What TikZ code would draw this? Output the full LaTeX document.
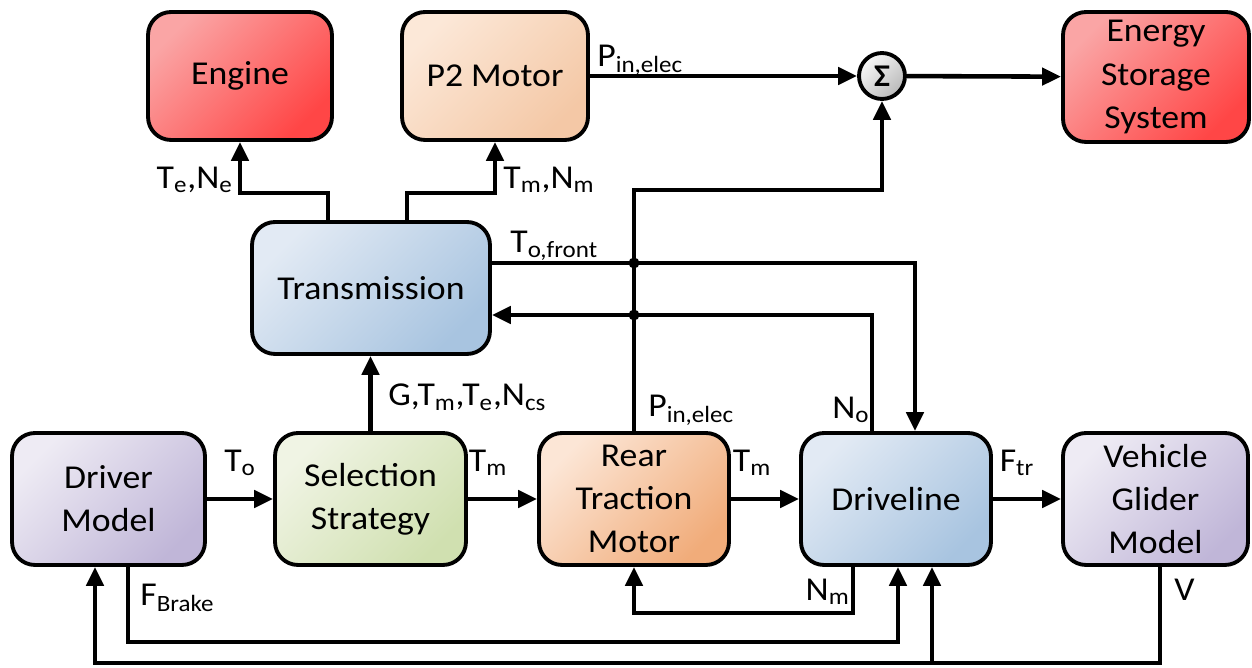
\documentclass[tikz,border=0pt]{standalone}
\usepackage{fontspec}
\setmainfont{Carlito}[FakeStretch=1.07]
\usetikzlibrary{arrows.meta}

\definecolor{redA}{RGB}{250,165,165}
\definecolor{redB}{RGB}{255,70,70}
\definecolor{peachA}{RGB}{252,232,216}
\definecolor{peachB}{RGB}{244,200,166}
\definecolor{orangeA}{RGB}{252,230,214}
\definecolor{orangeB}{RGB}{241,172,122}
\definecolor{blueA}{RGB}{226,234,244}
\definecolor{blueB}{RGB}{168,196,224}
\definecolor{lilacA}{RGB}{238,235,244}
\definecolor{lilacB}{RGB}{192,182,216}
\definecolor{greenA}{RGB}{240,244,228}
\definecolor{greenB}{RGB}{208,224,176}

\begin{document}
\begin{tikzpicture}[x=0.02cm, y=-0.02cm,
  blk/.style={draw, line width=2.2pt, rounded corners=0.46cm, align=center,
    inner sep=0pt, font=\fontsize{19}{24.5}\selectfont},
  redfill/.style={top color=redA, bottom color=redB, shading angle=45},
  peachfill/.style={top color=peachA, bottom color=peachB, shading angle=45},
  orangefill/.style={top color=orangeA, bottom color=orangeB, shading angle=45},
  bluefill/.style={top color=blueA, bottom color=blueB, shading angle=45},
  lilacfill/.style={top color=lilacA, bottom color=lilacB, shading angle=45},
  greenfill/.style={top color=greenA, bottom color=greenB, shading angle=45},
  sigfill/.style={top color=gray!5, bottom color=gray!55, shading angle=45},
  conn/.style={line width=2.6pt},
  arr/.style={conn, -{Triangle[length=0.38cm,width=0.34cm]}},
  lbl/.style={font=\fontsize{19}{22}\selectfont, inner sep=0pt},
  junction/.style={circle, fill, inner sep=0pt, minimum size=0.22cm}
]
\fill[white] (0,0) rectangle (1252,668);
\useasboundingbox (0,0) rectangle (1252,668);

% blocks, top row
\node[blk, redfill, minimum width=3.68cm, minimum height=2.56cm] (engine) at (240,76) {Engine};
\node[blk, peachfill, minimum width=3.72cm, minimum height=2.56cm] (p2) at (495,76) {P2 Motor};
\node[circle, draw, line width=2.2pt, sigfill, minimum size=0.92cm, inner sep=0pt,
  font=\fontsize{18}{18}\selectfont\bfseries] (sum) at (882,76) {Σ};
\node[blk, redfill, minimum width=3.72cm, minimum height=2.60cm] (ess) at (1156,77) {Energy\\Storage\\System};

% transmission
\node[blk, bluefill, minimum width=4.76cm, minimum height=2.64cm] (trans) at (371,288) {Transmission};

% blocks, bottom row
\node[blk, lilacfill, minimum width=3.86cm, minimum height=2.64cm] (driver) at (108.5,499) {Driver\\Model};
\node[blk, greenfill, minimum width=3.82cm, minimum height=2.64cm] (select) at (370.5,499) {Selection\\Strategy};
\node[blk, orangefill, minimum width=3.80cm, minimum height=2.64cm] (rtm) at (634,499) {Rear\\Traction\\Motor};
\node[blk, bluefill, minimum width=3.80cm, minimum height=2.64cm] (drive) at (896,499) {Driveline};
\node[blk, lilacfill, minimum width=3.70cm, minimum height=2.64cm] (vgm) at (1155.5,499) {Vehicle\\Glider\\Model};

% bend points
\coordinate (a1) at (328,193);
\coordinate (a2) at (407,193);
\coordinate (b1) at (634,190);
\coordinate (c1) at (915,263);
\coordinate (c2) at (872,315);
\coordinate (d1) at (853,613);
\coordinate (d2) at (128,642);
\coordinate (d3) at (898,642);
\coordinate (d4) at (1160,663);
\coordinate (d5) at (95,663);
\coordinate (d6) at (932,663);

% transmission to engine and P2 motor
\draw[arr] (trans.north -| a1) -- (a1) -| (engine.south);
\draw[arr] (trans.north -| a2) -- (a2) -| (p2.south);

% electrical power summation
\draw[arr] (p2) -- (sum);
\draw[arr] (sum) -- (ess);
\draw[arr] (rtm.north) -- (b1) -| (sum.south);

% transmission <-> driveline
\draw[arr] (trans.east |- c1) -- (c1) -- (drive.north -| c1);
\draw[arr] (drive.north -| c2) -- (c2) -- (trans.east |- c2);
\node[junction] (j1) at (b1 |- c1) {};
\node[junction] (j2) at (b1 |- c2) {};

% selection strategy to transmission
\draw[arr] (select.north) -- (trans.south -| select.north);

% forward chain
\draw[arr] (driver) -- (select);
\draw[arr] (select) -- (rtm);
\draw[arr] (rtm) -- (drive);
\draw[arr] (drive) -- (vgm);

% feedback loops
\draw[arr] (drive.south -| d1) -- (d1) -| (rtm.south);
\draw[arr] (driver.south -| d2) -- (d2) -- (d3) -- (drive.south -| d3);
\draw[arr] (vgm.south -| d4) -- (d4) -- (d5) -- (driver.south -| d5);
\draw[arr] (d6) -- (drive.south -| d6);

% signal labels
\node[lbl, anchor=east] (lte) at (233,180) {T\textsubscript{e},N\textsubscript{e}};
\node[lbl, anchor=west] (ltm) at (503,180) {T\textsubscript{m},N\textsubscript{m}};
\node[lbl, anchor=west] (lp1) at (597,60) {P\textsubscript{in,elec}};
\node[lbl, anchor=west] (ltf) at (510,246) {T\textsubscript{o,front}};
\node[lbl, anchor=west] (lg) at (388,397) {G,T\textsubscript{m},T\textsubscript{e},N\textsubscript{cs}};
\node[lbl, anchor=west] (lp2) at (648,410) {P\textsubscript{in,elec}};
\node[lbl, anchor=west] (lno) at (832,410) {N\textsubscript{o}};
\node[lbl] (lto) at (240,463) {T\textsubscript{o}};
\node[lbl] (ltm1) at (488,463) {T\textsubscript{m}};
\node[lbl] (ltm2) at (752,463) {T\textsubscript{m}};
\node[lbl] (lftr) at (1017,463) {F\textsubscript{tr}};
\node[lbl, anchor=west] (lfb) at (140,598) {F\textsubscript{Brake}};
\node[lbl, anchor=east] (lnm) at (850,592) {N\textsubscript{m}};
\node[lbl, anchor=west] (lv) at (1174,590) {V};
\end{tikzpicture}
\end{document}
